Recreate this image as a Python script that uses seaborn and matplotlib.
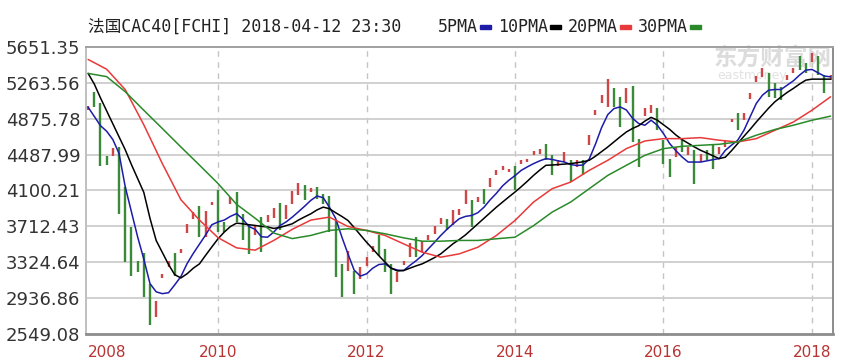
import numpy as np
import pandas as pd
import matplotlib
matplotlib.use("Agg")
import matplotlib.pyplot as plt
import seaborn as sns

# ---------------- data ----------------
first_month = "2008-04"

opens = [4970, 5165, 5040, 4470, 4470, 4570, 4137, 3703, 3343, 3420,
         3094, 2730, 3150, 3270, 3420, 3420, 3645, 3797, 3928, 3595,
         3940, 4100, 3757, 3957, 4083, 3850, 3722, 3614, 3812, 3757,
         3805, 3964, 3795, 3957, 4047, 4155, 4083, 4137, 4065, 4036,
         3776, 3307, 3235, 3235, 3145, 3289, 3433, 3614, 3470, 3307,
         3108, 3300, 3379, 3595, 3433, 3560, 3632, 3740, 3795, 3722,
         3830, 3957, 3992, 3975, 4119, 4137, 4263, 4317, 4299, 4360,
         4390, 4407, 4480, 4498, 4607, 4487, 4360, 4407, 4426, 4353,
         4426, 4588, 4913, 5040, 5003, 5203, 5105, 5040, 5227, 4660,
         4900, 4932, 4986, 4643, 4444, 4462, 4660, 4480, 4534, 4407,
         4534, 4588, 4498, 4570, 4840, 4932, 4860, 5083, 5274, 5328,
         5365, 5263, 5220, 5293, 5370, 5553, 5473, 5490, 5553, 5347,
         5293]
closes = [5010, 5003, 4360, 4370, 4555, 3850, 3325, 3180, 3216, 2945,
          2650, 2910, 3200, 3343, 3180, 3470, 3740, 3866, 3595, 3877,
          3975, 3650, 3650, 4030, 3757, 3560, 3418, 3722, 3432, 3830,
          3914, 3668, 3939, 4093, 4180, 4000, 4126, 4011, 3957, 3650,
          3162, 2953, 3451, 2982, 3270, 3379, 3505, 3397, 3216, 2982,
          3216, 3343, 3530, 3379, 3552, 3614, 3711, 3805, 3668, 3884,
          3905, 4100, 3703, 4029, 3957, 4238, 4325, 4360, 4335, 4100,
          4433, 4444, 4527, 4552, 4426, 4263, 4426, 4516, 4190, 4426,
          4263, 4697, 4967, 5130, 5300, 5003, 4787, 5203, 4624, 4353,
          4986, 5022, 4750, 4390, 4245, 4570, 4516, 4570, 4173, 4498,
          4426, 4335, 4570, 4643, 4877, 4750, 4939, 5148, 5336, 5420,
          5112, 5094, 5076, 5347, 5420, 5400, 5365, 5590, 5347, 5148,
          5347]

ma5 = [5000, 4900, 4800, 4740, 4650, 4500, 4140, 3870, 3600, 3360,
       3094, 3005, 2985, 2995, 3080, 3170, 3310, 3420, 3520, 3620,
       3730, 3760, 3780, 3820, 3850, 3790, 3710, 3680, 3600, 3595,
       3650, 3720, 3760, 3812, 3870, 3930, 3993, 4040, 4022, 3920,
       3800, 3600, 3415, 3240, 3175, 3199, 3260, 3300, 3307, 3260,
       3240, 3235, 3290, 3340, 3397, 3470, 3540, 3614, 3680, 3740,
       3795, 3820, 3830, 3860, 3920, 4000, 4070, 4150, 4210, 4260,
       4317, 4355, 4390, 4420, 4444, 4435, 4420, 4407, 4380, 4370,
       4375, 4440, 4600, 4780, 4920, 4985, 5003, 4970, 4880, 4823,
       4805, 4859, 4805, 4715, 4607, 4530, 4462, 4407, 4407, 4407,
       4420, 4433, 4444, 4534, 4590, 4643, 4750, 4895, 5040, 5130,
       5184, 5191, 5191, 5238, 5285, 5347, 5400, 5408, 5371, 5336,
       5328]
ma10 = [5365, 5250, 5100, 4960, 4820, 4680, 4540, 4380, 4230, 4080,
        3800, 3560, 3430, 3300, 3190, 3155, 3200, 3260, 3307, 3400,
        3490, 3578, 3650, 3710, 3747, 3740, 3730, 3722, 3712, 3706,
        3690, 3700, 3720, 3740, 3780, 3815, 3848, 3890, 3920, 3903,
        3860, 3820, 3776, 3700, 3620, 3541, 3470, 3395, 3325, 3260,
        3230, 3235, 3260, 3285, 3307, 3340, 3375, 3415, 3470, 3525,
        3570, 3620, 3680, 3740, 3800, 3860, 3920, 3975, 4030, 4083,
        4140, 4200, 4263, 4320, 4372, 4375, 4380, 4385, 4390, 4400,
        4410, 4426, 4470, 4520, 4570, 4625, 4680, 4732, 4770, 4800,
        4850, 4890, 4860, 4810, 4760, 4700, 4650, 4610, 4570, 4534,
        4505, 4475, 4444, 4460, 4530, 4607, 4685, 4760, 4840, 4915,
        4990, 5058, 5110, 5160, 5203, 5250, 5292, 5303, 5303, 5303,
        5303]

ma_slow_idx = list(range(0, 121, 3))
ma20 = [5516, 5410, 5190, 4810, 4390, 4000, 3780, 3590, 3480, 3455,
        3560, 3680, 3780, 3812, 3711, 3668, 3614, 3523, 3433, 3379,
        3415, 3487, 3614, 3776, 3975, 4119, 4191, 4317, 4426, 4552,
        4635, 4660, 4660, 4671, 4643, 4624, 4660, 4750, 4840, 4967,
        5112]
ma30 = [5365, 5330, 5167, 4967, 4769, 4570, 4374, 4175, 3950, 3800,
        3640, 3580, 3614, 3668, 3686, 3668, 3632, 3588, 3552, 3552,
        3560, 3560, 3578, 3595, 3720, 3866, 3975, 4119, 4263, 4372,
        4480, 4552, 4577, 4588, 4599, 4624, 4697, 4759, 4805, 4859,
        4903]

y_ticks = [2549.08, 2936.86, 3324.64, 3712.43, 4100.21, 4487.99,
           4875.78, 5263.56, 5651.35]
year_labels = ["2008", "2010", "2012", "2014", "2016", "2018"]
title = "法国CAC40[FCHI] 2018-04-12 23:30"
legend_names = ["5PMA", "10PMA", "20PMA", "30PMA"]

# ---------------- styling ----------------
sns.set_theme(style="white")
plt.rcParams["font.family"] = ["DejaVu Sans", "Noto Sans CJK SC"]

UP = "#cf4646"
DOWN = "#3a8a3a"
LINE_COLORS = ["#1c1ca8", "#000000", "#e83a3a", "#2a8a2a"]

W, H = 847, 362
fig = plt.figure(figsize=(W / 100, H / 100), dpi=100)
fig.patch.set_facecolor("white")
ax = fig.add_axes([86 / W, (H - 334) / H, (833 - 86) / W, (334 - 46.9) / H])

months = pd.period_range(first_month, periods=len(closes), freq="M")
idx = np.arange(len(months))

# year tick positions (first point for 2008, January for others)
year_pos = []
for lab in year_labels:
    hits = [i for i, m in enumerate(months) if m.year == int(lab) and m.month == 1]
    year_pos.append(hits[0] if hits else 0)

# grid
for p in year_pos[1:]:
    ax.axvline(p, color="#c4c4c4", lw=1.0, ls=(0, (4, 4)), zorder=0.6)
for t in y_ticks[1:-1]:
    ax.axhline(t, color="#cdcdcd", lw=1.3, zorder=0.6)

# watermark
ax.text(773 / W, 1 - 58 / H, "东方财富网", transform=fig.transFigure,
        family=["Noto Sans CJK SC"], fontsize=17, fontweight="bold",
        color="#dcdcdc", ha="center", va="center", zorder=0.7)
ax.text(752 / W, 1 - 76 / H, "eastmoney", transform=fig.transFigure,
        fontsize=9, color="#e2e2e2", ha="center", va="center", zorder=0.7)

# candles
o = np.array(opens, float)
c = np.array(closes, float)
cols = [UP if cc >= oo else DOWN for oo, cc in zip(o, c)]
ax.vlines(idx, np.minimum(o, c), np.maximum(o, c), colors=cols, lw=1.7, zorder=2)

# moving averages
sns.lineplot(x=idx, y=ma5, ax=ax, color=LINE_COLORS[0], lw=1.1, zorder=3)
sns.lineplot(x=idx, y=ma10, ax=ax, color=LINE_COLORS[1], lw=1.1, zorder=3)
sns.lineplot(x=ma_slow_idx, y=ma20, ax=ax, color=LINE_COLORS[2], lw=1.1, zorder=3)
sns.lineplot(x=ma_slow_idx, y=ma30, ax=ax, color=LINE_COLORS[3], lw=1.1, zorder=3)

ax.set_xlim(-0.34, 120.4)
ax.set_ylim(y_ticks[0], y_ticks[-1])
ax.set_yticks(y_ticks)
ax.set_yticklabels([f"{t:.2f}" for t in y_ticks])
ax.set_xticks(year_pos)
ax.set_xticklabels(year_labels)
ax.tick_params(axis="y", length=0, pad=4, labelsize=13, labelcolor="#333333")
ax.tick_params(axis="x", length=0, pad=8, labelsize=11, labelcolor="#b83232")
ax.get_xticklabels()[0].set_ha("left")
ax.set_xlabel("")
ax.set_ylabel("")
ax.grid(False)

for side, sp in ax.spines.items():
    sp.set_visible(True)
    sp.set_color("#a0a0a0")
    sp.set_linewidth(1.4)
ax.spines["bottom"].set_color("#8c8c8c")
ax.spines["bottom"].set_linewidth(2.0)
ax.spines["right"].set_color("#8c8c8c")
ax.spines["left"].set_color("#c0c0c0")

# title and legend
mono = ["DejaVu Sans Mono", "Noto Sans CJK SC"]
fig.text(88 / W, 1 - 27 / H, title, family=mono, fontsize=12,
         color="#222222", va="center", ha="left")

fig.canvas.draw()
renderer = fig.canvas.get_renderer()
x_px = 438
for name, col in zip(legend_names, LINE_COLORS):
    t = fig.text(x_px / W, 1 - 27 / H, name, family=mono, fontsize=12,
                 color="#222222", va="center", ha="left")
    bb = t.get_window_extent(renderer)
    x_end = bb.x1
    fig.patches.append(plt.Rectangle(((x_end + 2) / W, (H - 28.5) / H), 11 / W, 3.5 / H,
                                     transform=fig.transFigure, color=col, figure=fig))
    x_px = x_end + 20

fig.savefig("out.png", dpi=100, facecolor="white")
